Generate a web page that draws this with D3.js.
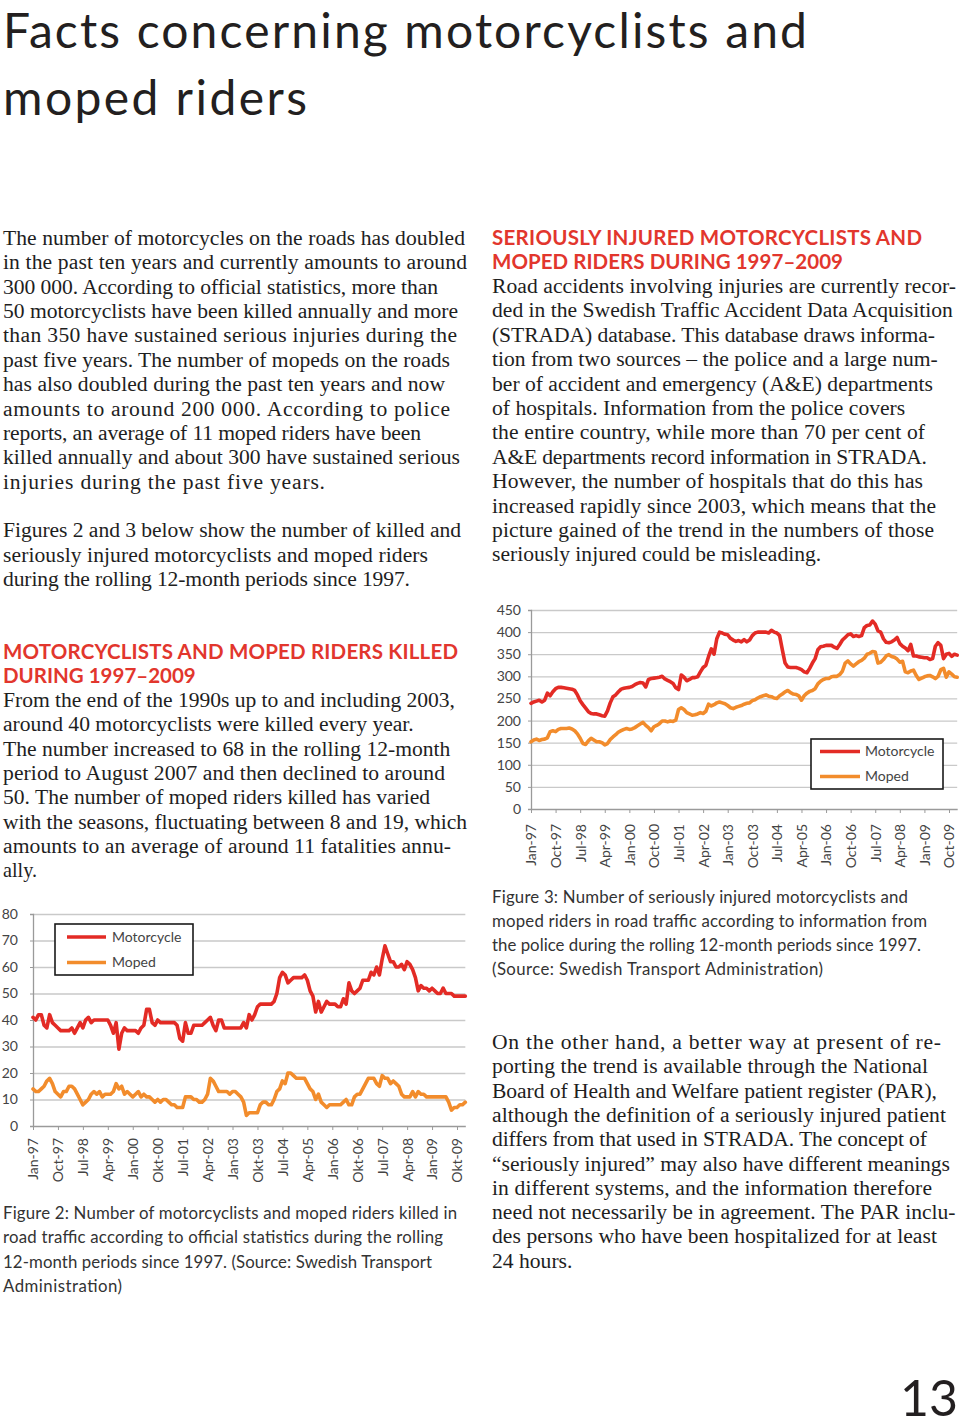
<!DOCTYPE html>
<html><head><meta charset="utf-8">
<script src="https://cdn.jsdelivr.net/npm/d3@7"></script>
<style>html,body{margin:0;padding:0;background:#fff;}svg{display:block;}</style>
</head><body>
<svg id="page" width="960" height="1427"></svg>
<script>
// ---------------- DATA ----------------
const monthNames = ["Jan","Feb","Mar","Apr","May","Jun","Jul","Aug","Sep","Oct","Nov","Dec"];
const months = [];
for (let y = 1997; y <= 2010; y++) for (let m = 0; m < 12; m++) if (months.length < 157) months.push(monthNames[m] + "-" + String(y).slice(2));

const killedTickLabels = ["Jan-97","Oct-97","Jul-98","Apr-99","Jan-00","Okt-00","Jul-01","Apr-02","Jan-03","Okt-03","Jul-04","Apr-05","Jan-06","Okt-06","Jul-07","Apr-08","Jan-09","Okt-09"];
const injuredTickLabels = ["Jan-97","Oct-97","Jul-98","Apr-99","Jan-00","Oct-00","Jul-01","Apr-02","Jan-03","Oct-03","Jul-04","Apr-05","Jan-06","Oct-06","Jul-07","Apr-08","Jan-09","Oct-09"];
const killedYTicks = [0,10,20,30,40,50,60,70,80];
const injuredYTicks = [0,50,100,150,200,250,300,350,400,450];
const seriesNames = ["Motorcycle","Moped"];

const killedMotorcycle = [
41,40,42,42,38,37,42,39,38,37,
36,36,36,36,37,35,37,39,37,40,
41,39,40,40,40,40,40,40,38,35,
39,29,35,37,36,36,36,36,35,37,
38,44,44,39,38,40,39,39,39,39,
39,39,38,33,32,39,35,35,38,38,
38,38,39,40,41,38,36,40,40,37,
37,37,37,37,37,37,39,37,42,40,
42,45,46,46,46,46,46,47,50,56,
58,57,54,55,56,56,56,56,57,55,
51,49,43,47,43,45,47,46,46,46,
45,45,48,46,54,51,50,51,52,55,
55,55,58,57,60,57,63,68,65,62,
62,60,60,61,59,62,61,59,56,51,
53,52,52,51,52,51,50,50,52,50,
50,50,49,49,49,49,49];
const killedMoped = [
14,13,13,14,15,17,18,16,13,12,
11,13,13,15,15,14,12,10,8,9,
10,12,13,12,13,11,12,12,12,13,
16,14,15,12,13,12,11,12,13,11,
12,11,11,10,9,10,9,10,10,9,
8,8,7,7,7,11,11,11,10,10,
9,9,10,12,18,17,15,13,13,13,
13,12,13,13,12,11,9,4,5,5,
5,5,8,9,9,8,8,10,13,14,
17,16,20,20,19,18,18,18,18,16,
14,13,10,12,9,8,7,8,8,8,
8,8,9,10,8,8,11,12,12,14,
16,18,18,18,16,15,19,18,18,16,
17,16,15,12,11,11,11,13,11,13,
12,12,11,11,11,11,11,11,11,11,
9,6,7,7,8,8,9];
const injuredMotorcycle = [
239,242,244,246,242,246,262,256,265,272,
275,275,274,273,272,271,268,258,245,236,
228,220,216,215,215,213,211,210,222,240,
254,258,265,271,273,274,275,277,281,284,
286,285,276,293,295,296,297,298,300,294,
291,288,284,274,270,303,298,290,293,297,
297,299,310,320,325,345,362,350,385,400,
398,395,394,386,382,379,381,378,383,378,
382,392,398,400,400,400,400,398,404,400,
398,392,360,330,321,320,320,320,318,315,
310,308,318,330,340,360,367,368,370,370,
370,366,363,372,382,388,394,396,390,392,
390,392,410,415,416,425,418,403,400,385,
377,376,378,382,388,374,368,364,358,372,
346,346,344,343,342,342,338,340,368,376,
370,340,350,352,345,350,348];
const injuredMoped = [
152,156,158,155,157,158,161,175,177,175,
180,182,182,182,183,181,177,170,160,148,
146,154,160,156,152,152,150,145,148,157,
163,168,174,177,180,182,180,181,184,188,
192,196,189,184,177,186,189,193,199,199,
197,199,198,201,225,229,225,218,215,212,
213,215,218,216,221,237,233,236,240,242,
240,238,234,229,227,230,232,234,237,239,
240,245,247,251,254,256,258,255,254,251,
250,256,260,265,268,263,260,259,256,246,
256,262,266,268,272,283,289,293,295,295,
299,300,300,304,312,330,335,328,323,328,
333,336,341,350,352,356,355,330,332,338,
346,349,345,343,339,332,334,310,308,312,
314,302,293,296,299,301,302,299,295,300,
315,318,298,310,305,299,298];

// ---------------- TEXT ----------------
const titleLines = [["Facts concerning motorcyclists and",807],["moped riders",307]];
const introLines = [
["The number of motorcycles on the roads has doubled",465],
["in the past ten years and currently amounts to around",467],
["300 000. According to official statistics, more than",438],
["50 motorcyclists have been killed annually and more",458],
["than 350 have sustained serious injuries during the",457],
["past five years. The number of mopeds on the roads",449],
["has also doubled during the past ten years and now",445],
["amounts to around 200 000. According to police",450],
["reports, an average of 11 moped riders have been",421],
["killed annually and about 300 have sustained serious",460],
["injuries during the past five years.",325],
["",0],
["Figures 2 and 3 below show the number of killed and",461],
["seriously injured motorcyclists and moped riders",428],
["during the rolling 12-month periods since 1997.",410]];
const killedHeading = [["MOTORCYCLISTS AND MOPED RIDERS KILLED",458],["DURING 1997–2009",195]];
const killedText = [
["From the end of the 1990s up to and including 2003,",455],
["around 40 motorcyclists were killed every year.",413],
["The number increased to 68 in the rolling 12-month",451],
["period to August 2007 and then declined to around",445],
["50. The number of moped riders killed has varied",431],
["with the seasons, fluctuating between 8 and 19, which",467],
["amounts to an average of around 11 fatalities annu-",451],
["ally.",37]];
const fig2Caption = [
["Figure 2: Number of motorcyclists and moped riders killed in",457],
["road traffic according to official statistics during the rolling",443],
["12-month periods since 1997. (Source: Swedish Transport",432],
["Administration)",122]];
const injuredHeading = [["SERIOUSLY INJURED MOTORCYCLISTS AND",922],["MOPED RIDERS DURING 1997–2009",843]];
const injuredText = [
["Road accidents involving injuries are currently recor-",956],
["ded in the Swedish Traffic Accident Data Acquisition",952],
["(STRADA) database. This database draws informa-",935],
["tion from two sources – the police and a large num-",938],
["ber of accident and emergency (A&E) departments",933],
["of hospitals. Information from the police covers",906],
["the entire country, while more than 70 per cent of",925],
["A&E departments record information in STRADA.",927],
["However, the number of hospitals that do this has",923],
["increased rapidly since 2003, which means that the",936],
["picture gained of the trend in the numbers of those",934],
["seriously injured could be misleading.",822]];
const fig3Caption = [
["Figure 3: Number of seriously injured motorcyclists and",908],
["moped riders in road traffic according to information from",927],
["the police during the rolling 12-month periods since 1997.",921],
["(Source: Swedish Transport Administration)",823]];
const parText = [
["On the other hand, a better way at present of re-",941],
["porting the trend is available through the National",928],
["Board of Health and Welfare patient register (PAR),",937],
["although the definition of a seriously injured patient",946],
["differs from that used in STRADA. The concept of",927],
["“seriously injured” may also have different meanings",950],
["in different systems, and the information therefore",932],
["need not necessarily be in agreement. The PAR inclu-",956],
["des persons who have been hospitalized for at least",937],
["24 hours.",573]];

// ---------------- DRAW ----------------
const svg = d3.select("#page");
svg.append("rect").attr("width",960).attr("height",1427).attr("fill","#fff");

function block(lines, x, y0, lh, style) {
  const g = svg.append("g");
  lines.forEach((l, i) => {
    if (!l[0]) return;
    const t = g.append("text").attr("x", x).attr("y", y0 + i * lh).text(l[0]);
    for (const k in style) t.style(k, style[k]);
    const target = l[1] - x;
    let nat = t.node().getComputedTextLength();
    if (target > 0 && nat > target * 1.03) {
      const fs = parseFloat(style["font-size"]) * target / nat;
      t.style("font-size", fs + "px");
      nat = t.node().getComputedTextLength();
    }
    if (target > 0 && Math.abs(nat - target) > 1 && Math.abs(nat - target) / target < 0.12) {
      t.attr("textLength", target).attr("lengthAdjust", "spacing");
    }
  });
}
const serif = {"font-family":"'Liberation Serif', serif","font-size":"21.6px","fill":"#1e1e1e"};
const head = {"font-family":"Lato, sans-serif","font-size":"20.5px","font-weight":"700","fill":"#e2362d"};
const cap = {"font-family":"Lato, sans-serif","font-size":"16.8px","font-weight":"400","fill":"#333"};

block(titleLines, 3, 48, 67, {"font-family":"Lato, sans-serif","font-size":"48px","fill":"#231f20"});
block(introLines, 3, 245, 24.36, serif);
block(killedHeading, 3, 659, 24, head);
block(killedText, 3, 707, 24.3, serif);
block(fig2Caption, 3, 1219, 24.3, cap);
block(injuredHeading, 492, 245, 24, head);
block(injuredText, 492, 293, 24.4, serif);
block(fig3Caption, 492, 903, 24, cap);
block(parText, 492, 1049, 24.3, serif);
svg.append("text").attr("x",958).attr("y",1416).attr("text-anchor","end")
  .style("font-family","Lato, sans-serif").style("font-size","50px").style("fill","#231f20").text("13");

const colors = {Motorcycle:"#e32b25", Moped:"#f28c2c"};

function chart(cfg) {
  const x = d3.scalePoint().domain(months).range([cfg.x0, cfg.x0 + cfg.step * (months.length - 1)]);
  const y = d3.scaleLinear().domain([0, cfg.yMax]).range([cfg.yBottom, cfg.yTop]);
  const g = svg.append("g");
  const xEnd = cfg.x0 + cfg.step * (months.length - 1);
  // grid
  g.append("g").attr("transform", `translate(${cfg.x0},0)`)
    .call(d3.axisLeft(y).tickValues(cfg.yTicks.slice(1)).tickSize(-(xEnd - cfg.x0)).tickFormat(""))
    .call(s => s.select(".domain").remove())
    .call(s => s.selectAll("line").attr("stroke","#c9c9c9").attr("stroke-width",1.3));
  // y axis
  const ya = g.append("g").attr("transform", `translate(${cfg.x0},0)`)
    .call(d3.axisLeft(y).tickValues(cfg.yTicks).tickSize(3).tickPadding(cfg.yPad));
  ya.select(".domain").attr("stroke","#9a9a9a").attr("stroke-width",1.3);
  ya.selectAll("line").attr("stroke","#9a9a9a");
  ya.selectAll("text").style("font-family","Lato, sans-serif").style("font-size","14px").attr("fill","#444");
  // x axis
  const tickMonths = months.filter((m, i) => i % 9 === 0);
  const xa = g.append("g").attr("transform", `translate(0,${cfg.yBottom})`)
    .call(d3.axisBottom(x).tickValues(tickMonths).tickSize(4).tickSizeOuter(0)
      .tickFormat((d, i) => cfg.xLabels[i]));
  xa.select(".domain").attr("stroke","#9a9a9a").attr("stroke-width",1.3);
  xa.selectAll("line").attr("stroke","#9a9a9a");
  xa.selectAll("text").style("font-family","Lato, sans-serif").style("font-size","14px").attr("fill","#444")
    .attr("text-anchor","end").attr("transform", `rotate(-90)`)
    .attr("x", -cfg.labelGap).attr("y", 0).attr("dy", "0.35em");
  // lines
  const line = d3.line().x((d, i) => x(months[i])).y(d => y(d)).curve(d3.curveLinear);
  cfg.series.forEach((s, k) => {
    g.append("path").datum(s).attr("d", line).attr("fill","none")
      .attr("stroke", colors[seriesNames[k]]).attr("stroke-width", 3.6)
      .attr("stroke-linejoin","round").attr("stroke-linecap","round");
  });
  // legend
  const L = cfg.legend;
  const lg = g.append("g").attr("transform", `translate(${L.x},${L.y})`);
  lg.append("rect").attr("width", L.w).attr("height", L.h).attr("fill","#fff")
    .attr("stroke","#1a1a1a").attr("stroke-width",1.6);
  seriesNames.forEach((n, k) => {
    const yy = L.row0 + k * L.rowH;
    lg.append("line").attr("x1", L.s0).attr("x2", L.s1).attr("y1", yy).attr("y2", yy)
      .attr("stroke", colors[n]).attr("stroke-width", 3.6);
    lg.append("text").attr("x", L.tx).attr("y", yy).attr("dy","0.35em").text(n)
      .style("font-family","Lato, sans-serif").style("font-size","14px").attr("fill","#444");
  });
}

chart({x0:33, step:424/153, yTop:914, yBottom:1126, yMax:80, yTicks:killedYTicks, yPad:12,
  xLabels:killedTickLabels, labelGap:12, series:[killedMotorcycle, killedMoped],
  legend:{x:55, y:924, w:138, h:51, row0:13, rowH:25.5, s0:12, s1:51, tx:57}});
chart({x0:531, step:418/153, yTop:610, yBottom:809, yMax:450, yTicks:injuredYTicks, yPad:7,
  xLabels:injuredTickLabels, labelGap:15, series:[injuredMotorcycle, injuredMoped],
  legend:{x:811, y:739, w:132, h:50, row0:12.5, rowH:25, s0:9, s1:49, tx:54}});
</script>
</body></html>
